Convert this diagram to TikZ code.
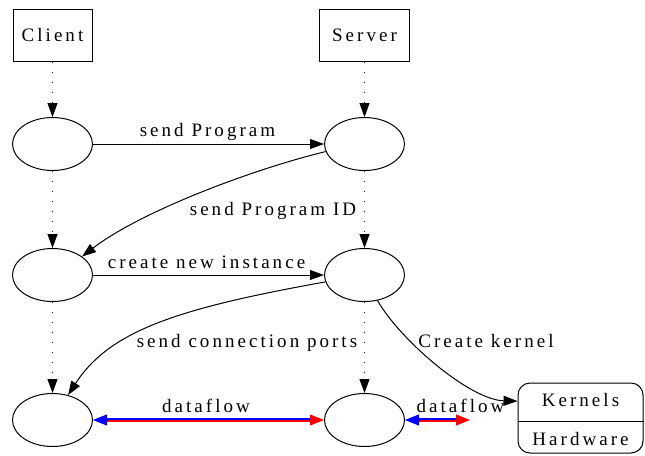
\documentclass[tikz,border=0pt]{standalone}
\usepackage{fontspec}
\setmainfont{Liberation Serif}[LetterSpace=16]
\usetikzlibrary{shapes.geometric,arrows.meta,calc}
\begin{document}
\begin{tikzpicture}[x=1pt,y=-1pt, line width=1pt,
  >={Triangle[length=14pt,width=10pt]},
  font=\fontsize{19}{23}\selectfont,
  box/.style={draw, rectangle, minimum height=52pt, inner sep=0pt},
  oval/.style={draw, ellipse, minimum width=80pt, minimum height=53pt, inner sep=0pt},
  lbl/.style={anchor=base, inner sep=0pt},
  arr/.style={->},
  dots/.style={->, dash pattern=on 1.2pt off 8.8pt},
  flowtip/.style={-{Triangle[length=14pt,width=11pt]}},
  flowline/.style={line width=2pt, shorten <=13pt, shorten >=13pt},
]
\useasboundingbox (0,0) rectangle (645,455);
% nodes
\node[box, minimum width=79pt] (client) at (52.5,35) {Client};
\node[box, minimum width=90pt] (server) at (364.5,35) {Server};
\node[oval] (c1) at (52.5,144) {};
\node[oval] (s1) at (364.5,144) {};
\node[oval] (c2) at (52.5,275) {};
\node[oval] (s2) at (364.5,275) {};
\node[oval] (c3) at (52.5,420) {};
\node[oval] (s3) at (364.5,420) {};
\node[draw, rectangle, rounded corners=12pt, minimum width=125pt, minimum height=70pt, inner sep=0pt] (kern) at (580.5,418) {};
\draw (kern.west |- 0,421) -- (kern.east |- 0,421);
\node[lbl] (kt) at (580.5,406) {Kernels};
\node[lbl] (ht) at (580.5,445) {Hardware};
\coordinate (dfend) at (470,420);
% dotted lifelines
\draw[dots] (client) -- (c1);
\draw[dots] (c1) -- (c2);
\draw[dots] (c2) -- (c3);
\draw[dots] (server) -- (s1);
\draw[dots] (s1) -- (s2);
\draw[dots] (s2) -- (s3);
% messages
\draw[arr] (c1) -- (s1);
\node[lbl] (l1) at (207.5,136) {send Program};
\draw[arr] (s1.191) .. controls (250,170) and (140,212) .. (c2.32);
\node[lbl] (l2) at (273,215) {send Program ID};
\draw[arr] (c2) -- (s2);
\node[lbl] (l3) at (206.5,268) {create new instance};
\draw[arr] (s2.190) .. controls (180,308) and (110,330) .. (c3.58);
\node[lbl] (l4) at (247,347) {send connection ports};
\draw[arr] (s2.297) .. controls (400,340) and (470,400) .. (kern.165.6);
\node[lbl] (l5) at (486,347) {Create kernel};
% dataflow 1
\draw[blue, flowline] ([yshift=1pt]c3.east) -- ([yshift=1pt]s3.west);
\draw[red, flowline] ([yshift=-1pt]c3.east) -- ([yshift=-1pt]s3.west);
\draw[blue, flowtip] ([xshift=14pt]c3.east) -- (c3.east);
\draw[red, flowtip] ([xshift=-14pt]s3.west) -- (s3.west);
\node[lbl] (l6) at (206,412.7) {dataflow};
% dataflow 2
\draw[blue, flowline] ([yshift=1pt]s3.east) -- ([yshift=1pt]dfend);
\draw[red, flowline] ([yshift=-1pt]s3.east) -- ([yshift=-1pt]dfend);
\draw[blue, flowtip] ([xshift=14pt]s3.east) -- (s3.east);
\draw[red, flowtip] ([xshift=-14pt]dfend) -- (dfend);
\node[lbl] (l7) at (460.5,412.7) {dataflow};
\end{tikzpicture}
\end{document}
